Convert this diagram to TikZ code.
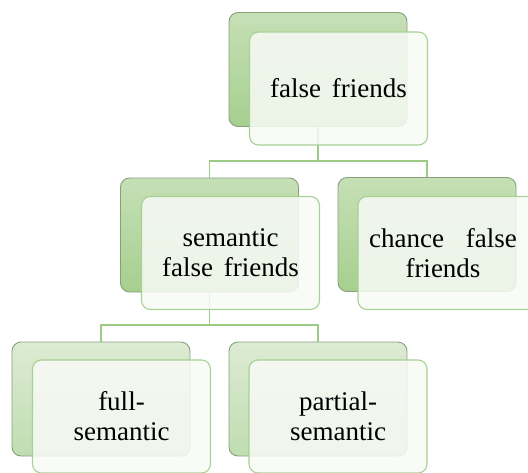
\documentclass[tikz,border=0pt]{standalone}
\usepackage{fontspec}
\setmainfont{Liberation Serif}
\definecolor{backtopA}{HTML}{C6E0B6}
\definecolor{backbotA}{HTML}{A6CF8F}
\definecolor{backtopB}{HTML}{DCEBD3}
\definecolor{backbotB}{HTML}{C0DDB1}
\definecolor{backline}{HTML}{889F7E}
\definecolor{frontfill}{HTML}{F8FAF6}
\definecolor{frontline}{HTML}{A8D192}
\definecolor{conn}{HTML}{9CCB86}
\newcommand{\wsp}{\spaceskip=11pt\relax}
\tikzset{
  backbox/.style={rectangle, rounded corners=9pt, minimum width=178pt, minimum height=114pt,
    draw=backline, line width=0.9pt, top color=backtopA, bottom color=backbotA, inner sep=0pt},
  backboxlight/.style={backbox, top color=backtopB, bottom color=backbotB},
  frontbox/.style={rectangle, rounded corners=9pt, minimum width=178pt, minimum height=113pt,
    draw=frontline, line width=1.1pt, fill=frontfill, fill opacity=0.86, inner sep=0pt},
  lbl/.style={font=\fontsize{27}{30}\selectfont, align=center, text=black},
  connector/.style={draw=conn, line width=1.4pt}
}
\begin{document}
\begin{tikzpicture}[x=1pt,y=-1pt]
\useasboundingbox (0,0) rectangle (528,472);
\clip (0,0) rectangle (528,472);
% helper coordinates for elbow heights
\coordinate (m1) at (0,161);
\coordinate (m2) at (0,325);
% back boxes
\node[backbox] (ffb) at (318,69.5) {};
\node[backbox] (sfb) at (209.5,235) {};
\node[backbox] (cfb) at (427,234.5) {};
\node[backboxlight] (fsb) at (101,399) {};
\node[backboxlight] (psb) at (318,399) {};
% connectors
\draw[connector] (ffb.south) -- (ffb.south |- m1) -| (sfb.north);
\draw[connector] (ffb.south |- m1) -| (cfb.north);
\draw[connector] (sfb.south) -- (sfb.south |- m2) -| (fsb.north);
\draw[connector] (sfb.south |- m2) -| (psb.north);
% front boxes
\node[frontbox] (ff) at (338.5,88.5) {};
\node[frontbox] (sf) at (230.5,253) {};
\node[frontbox] (cf) at (447,253) {};
\node[frontbox] (fs) at (121.5,416.5) {};
\node[frontbox] (ps) at (338,416.5) {};
% labels
\node[lbl] (ffl) at (ff.center) {\wsp false friends};
\node[lbl] (sfl) at (sf.center) {\wsp semantic\\\wsp false friends};
\node[lbl] (cfl) at (443,253) {chance\hspace{22pt}false\\friends};
\node[lbl] (fsl) at (fs.center) {full-\\semantic};
\node[lbl] (psl) at (ps.center) {partial-\\semantic};
\end{tikzpicture}
\end{document}
